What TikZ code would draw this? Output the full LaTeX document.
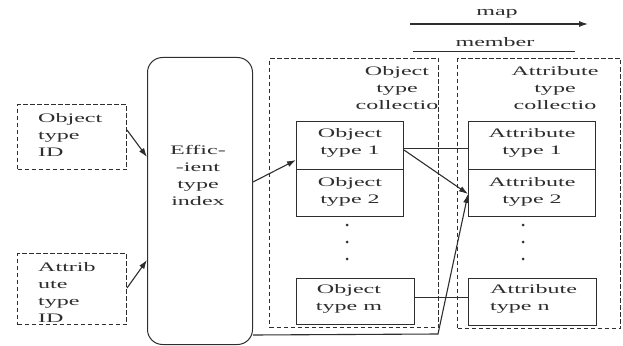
\documentclass[tikz,border=0pt]{standalone}
\usepackage{fontspec}
\setmainfont{Liberation Serif}[FakeStretch=1.85]
\usetikzlibrary{arrows.meta}
\definecolor{ink}{HTML}{2E2E2E}
\begin{document}
\begin{tikzpicture}[x=1pt,y=-1pt,
  box/.style={draw=ink, line width=1pt, inner sep=0pt, anchor=north west},
  dbox/.style={box, dash pattern=on 4.5pt off 2.5pt},
  txt/.style={text=ink, font=\fontsize{13}{17}\selectfont, align=center, inner sep=0pt},
  ltxt/.style={txt, align=left},
  arr/.style={draw=ink, line width=1.1pt, -{Latex[length=9pt,width=6pt]}},
  conn/.style={draw=ink, line width=0.8pt},
  dot/.style={circle, fill=ink, inner sep=0pt, minimum size=3pt}]
\useasboundingbox (0,0) rectangle (623,345);

% legend
\node[txt] (maplbl) at (497,14) {map};
\coordinate (mapA) at (410,24);
\coordinate (mapB) at (588,24);
\draw[arr] (mapA) -- (mapB);
\node[txt] (memlbl) at (495,42) {member};
\coordinate (memA) at (413,51);
\coordinate (memB) at (575,51);
\draw[conn] (memA) -- (memB);

% identifiers
\node[dbox, minimum width=109pt, minimum height=65pt] (oid) at (17,104) {};
\node[ltxt, anchor=west] (oidt) at (38,135) {Object\\type\\ID};
\node[dbox, minimum width=109pt, minimum height=71pt] (aid) at (17,253) {};
\node[ltxt, anchor=west] (aidt) at (38,292) {Attrib\\ute\\type\\ID};

% index
\node[box, rounded corners=15pt, minimum width=105pt, minimum height=287pt] (idx) at (147,57) {};
\node[txt] (idxt) at (198,175) {Effic-\\-ient\\type\\index};

% collections
\node[dbox, minimum width=169pt, minimum height=269pt] (oc) at (269,58) {};
\node[txt] (oct) at (397,88) {Object\\type\\collectio};
\node[dbox, minimum width=163pt, minimum height=270pt] (ac) at (457,58) {};
\node[txt] (act) at (555,88) {Attribute\\type\\collectio};

% object types
\node[box, minimum width=107pt, minimum height=48pt] (ot1) at (296,121) {};
\node[txt] (ot1t) at (350,142.5) {Object\\type 1};
\node[box, minimum width=107pt, minimum height=47pt] (ot2) at (296,169) {};
\node[txt] (ot2t) at (350,192) {Object\\type 2};
\node[dot] (od1) at (347,225) {};
\node[dot] (od2) at (347,242) {};
\node[dot] (od3) at (347,259) {};
\node[box, minimum width=118pt, minimum height=46pt] (otm) at (296,278) {};
\node[txt] (otmt) at (349,299) {Object\\type m};

% attribute types
\node[box, minimum width=127pt, minimum height=48pt] (at1) at (468,121) {};
\node[txt] (at1t) at (532,142.5) {Attribute\\type 1};
\node[box, minimum width=127pt, minimum height=47pt] (at2) at (468,169) {};
\node[txt] (at2t) at (532,192) {Attribute\\type 2};
\node[dot] (ad1) at (523,225) {};
\node[dot] (ad2) at (523,242) {};
\node[dot] (ad3) at (523,259) {};
\node[box, minimum width=128pt, minimum height=47pt] (atn) at (468,278) {};
\node[ltxt, anchor=west] (atnt) at (490,299) {Attribute\\type n};

% connectors
\draw[arr] (oid.east |- 0,130) -- (idx.west |- 0,157);
\draw[arr] (aid.east |- 0,288) -- (idx.west |- 0,260);
\draw[arr] (idx.east |- 0,182) -- (ot1.west |- 0,160);
\draw[conn] (ot1.east |- 0,148) -- (at1.west |- 0,148);
\draw[arr] (ot1.east |- 0,150) -- (at2.west |- 0,194);
\draw[conn] (otm.east |- 0,297) -- (atn.west |- 0,297);
\coordinate (bend) at (438,334);
\draw[arr] (idx.east |- 0,335) -- (bend) -- (at2.west |- 0,194);
\end{tikzpicture}
\end{document}
